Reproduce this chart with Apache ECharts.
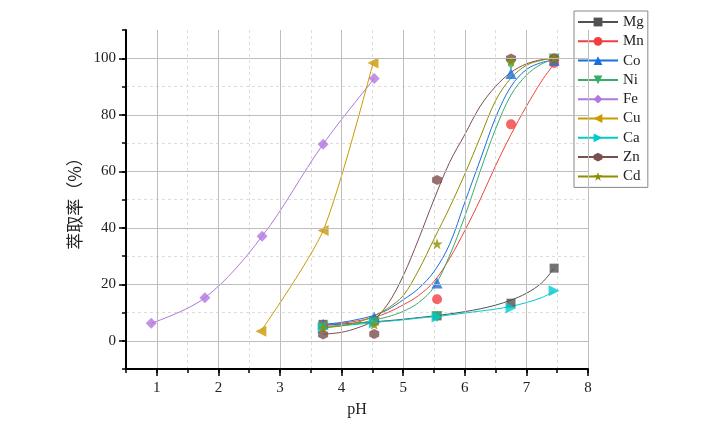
<!DOCTYPE html>
<html>
<head>
<meta charset="utf-8">
<script src="https://cdn.jsdelivr.net/npm/echarts@6/dist/echarts.min.js"></script>
<style>
  html, body { margin: 0; padding: 0; background: #fff; }
  #main { width: 712px; height: 429px; }
</style>
</head>
<body>
<div id="main"></div>
<script>
// measured points
var ptX = [3.7, 4.53, 5.55, 6.75, 7.45];
var mgPts = [5.8, 7.0, 8.8, 13.3, 25.7];
var mnPts = [5.5, 7.0, 14.7, 76.6, 98.3];
var coPts = [5.8, 8.3, 20.4, 94.6, 99.3];
var niPts = [4.8, 6.5, 8.5, 97.8, 99.7];
var caPts = [4.5, 6.3, 8.4, 11.6, 17.7];
var znPts = [2.2, 2.4, 56.9, 99.9, 100];
var cdPts = [4.6, 5.8, 34.3, 98.9, 100];

var feX = [0.91, 1.78, 2.71, 3.70, 4.53];
var fePts = [6.2, 15.2, 37.0, 69.6, 92.8];
var cuX = [2.69, 3.70, 4.51];
var cuPts = [3.4, 39.0, 98.3];

// fitted curves
var fitX = [3.7, 4.0, 4.25, 4.5, 4.75, 5.0, 5.25, 5.5, 5.75, 6.0, 6.25, 6.5, 6.75, 7.0, 7.25, 7.45];
var mgFit = [5.5, 5.9, 6.3, 6.7, 7.1, 7.6, 8.2, 8.8, 9.5, 10.3, 11.3, 12.6, 14.4, 16.8, 20.5, 25.7];
var mnFit = [5.5, 6.2, 7.0, 8.1, 10.0, 12.7, 16.0, 21.0, 29.0, 39.0, 50.0, 62.0, 73.0, 83.0, 92.0, 98.0];
var coFit = [5.8, 6.5, 7.5, 8.8, 11.0, 14.5, 18.5, 24.5, 34.0, 49.0, 64.0, 79.0, 90.0, 96.0, 98.5, 99.3];
var niFit = [4.8, 5.3, 6.0, 7.2, 8.5, 10.4, 13.5, 19.0, 30.0, 44.0, 60.0, 75.0, 87.0, 94.0, 98.0, 99.5];
var caFit = [5.0, 5.5, 5.8, 6.4, 6.9, 7.4, 8.0, 8.5, 9.1, 9.8, 10.5, 11.2, 12.2, 13.5, 15.3, 17.5];
var znFit = [2.3, 3.0, 4.5, 7.0, 13.0, 23.0, 36.0, 50.0, 63.0, 73.0, 83.0, 90.0, 95.0, 98.0, 99.5, 100];
var cdFit = [4.5, 5.3, 6.5, 8.5, 11.5, 16.0, 25.0, 36.0, 47.0, 59.0, 72.0, 85.0, 93.0, 97.5, 99.3, 100];

var xTicks = [1, 2, 3, 4, 5, 6, 7, 8];
var yTicks = [0, 20, 40, 60, 80, 100];

var hexagon = 'path://M0,-10 L8.66,-5 L8.66,5 L0,10 L-8.66,5 L-8.66,-5 Z';
var star = 'path://M0,-10 L2.35,-3.24 L9.51,-3.09 L3.8,1.24 L5.88,8.09 L0,4 L-5.88,8.09 L-3.8,1.24 L-9.51,-3.09 L-2.35,-3.24 Z';

var elements = [
  { name: 'Mg', color: '#515151', symbol: 'rect', rotate: 0, size: 9, xs: ptX, pts: mgPts, fit: mgFit, smooth: 0.35 },
  { name: 'Mn', color: '#F14040', symbol: 'circle', rotate: 0, size: 10, xs: ptX, pts: mnPts, fit: mnFit, smooth: 0.35 },
  { name: 'Co', color: '#1A6FDF', symbol: 'triangle', rotate: 0, size: 11, xs: ptX, pts: coPts, fit: coFit, smooth: 0.35 },
  { name: 'Ni', color: '#37AD6B', symbol: 'triangle', rotate: 180, size: 11, xs: ptX, pts: niPts, fit: niFit, smooth: 0.35 },
  { name: 'Fe', color: '#B177DE', symbol: 'diamond', rotate: 0, size: 11, xs: feX, pts: fePts, fit: null, smooth: 0.35 },
  { name: 'Cu', color: '#CC9900', symbol: 'triangle', rotate: 90, size: 11, xs: cuX, pts: cuPts, fit: null, smooth: 0.25 },
  { name: 'Ca', color: '#00CBCC', symbol: 'triangle', rotate: -90, size: 11, xs: ptX, pts: caPts, fit: caFit, smooth: 0.35 },
  { name: 'Zn', color: '#7D4E4E', symbol: hexagon, rotate: 0, size: 10, xs: ptX, pts: znPts, fit: znFit, smooth: 0.35 },
  { name: 'Cd', color: '#8E8E00', symbol: star, rotate: 0, size: 11, xs: ptX, pts: cdPts, fit: cdFit, smooth: 0.35 }
];

function pairs(xs, ys) {
  return ys.map(function (y, i) { return [xs[i], y]; });
}

var series = [];
elements.forEach(function (el) {
  var curve = el.fit ? pairs(fitX, el.fit) : pairs(el.xs, el.pts);
  series.push({
    name: el.name,
    type: 'line',
    smooth: el.smooth,
    data: curve,
    symbol: el.symbol,
    symbolRotate: el.rotate,
    symbolSize: el.size,
    showSymbol: false,
    color: el.color,
    lineStyle: { width: 1, color: el.color },
    z: 2
  });
  series.push({
    name: el.name,
    type: 'scatter',
    data: pairs(el.xs, el.pts),
    symbol: el.symbol,
    symbolRotate: el.rotate,
    symbolSize: el.size,
    itemStyle: { color: el.color },
    z: 3
  });
});

var serif = '"Liberation Serif", "DejaVu Serif", serif';

var option = {
  backgroundColor: '#fff',
  animation: false,
  grid: { left: 126, right: 124, top: 30, bottom: 60 },
  legend: {
    orient: 'vertical',
    left: 574,
    top: 11,
    data: elements.map(function (e) { return e.name; }),
    itemWidth: 40,
    itemHeight: 11,
    itemGap: 3.3,
    padding: [3, 4, 3, 3],
    borderColor: '#888',
    borderWidth: 1,
    textStyle: { fontFamily: serif, fontSize: 15, color: '#222', lineHeight: 16 }
  },
  xAxis: [
    {
      type: 'value', min: 0.5, max: 8, position: 'bottom',
      name: 'pH', nameLocation: 'middle', nameGap: 33,
      nameTextStyle: { fontFamily: serif, fontSize: 16, color: '#222' },
      axisLine: { onZero: false, lineStyle: { color: '#000', width: 2 } },
      axisTick: { customValues: xTicks, length: 7, lineStyle: { color: '#000', width: 1.5 } },
      axisLabel: { customValues: xTicks, margin: 12, fontFamily: serif, fontSize: 15, color: '#222' },
      splitLine: { show: true, lineStyle: { color: '#bdbdbd', width: 1 } },
      z: 5
    },
    {
      type: 'value', min: 0.5, max: 8, interval: 0.5, position: 'bottom',
      axisLine: { show: false, onZero: false },
      axisTick: { length: 4, lineStyle: { color: '#000', width: 1.5 } },
      axisLabel: { show: false },
      splitLine: { show: true, showMinLine: false, lineStyle: { color: '#dcdcdc', width: 1, type: [3, 3] } },
      z: 1
    }
  ],
  yAxis: [
    {
      type: 'value', min: -10, max: 110, position: 'left',
      name: '萃取率（%）', nameLocation: 'middle', nameGap: 38,
      nameTextStyle: { fontFamily: '"Noto Sans CJK SC", sans-serif', fontSize: 17, color: '#222' },
      axisLine: { show: true, onZero: false, lineStyle: { color: '#000', width: 2 } },
      axisTick: { show: true, customValues: yTicks, length: 7, lineStyle: { color: '#000', width: 1.5 } },
      axisLabel: { customValues: yTicks, margin: 10, fontFamily: serif, fontSize: 15, color: '#222' },
      splitLine: { show: true, lineStyle: { color: '#bdbdbd', width: 1 } },
      z: 5
    },
    {
      type: 'value', min: -10, max: 110, interval: 10, position: 'left',
      axisLine: { show: false, onZero: false },
      axisTick: { show: true, length: 4, lineStyle: { color: '#000', width: 1.5 } },
      axisLabel: { show: false },
      splitLine: { show: true, showMinLine: false, showMaxLine: false, lineStyle: { color: '#dcdcdc', width: 1, type: [3, 3] } },
      z: 1
    }
  ],
  series: series
};

var myChart = echarts.init(document.getElementById('main'), null, { renderer: 'canvas' });
myChart.setOption(option);
</script>
</body>
</html>
